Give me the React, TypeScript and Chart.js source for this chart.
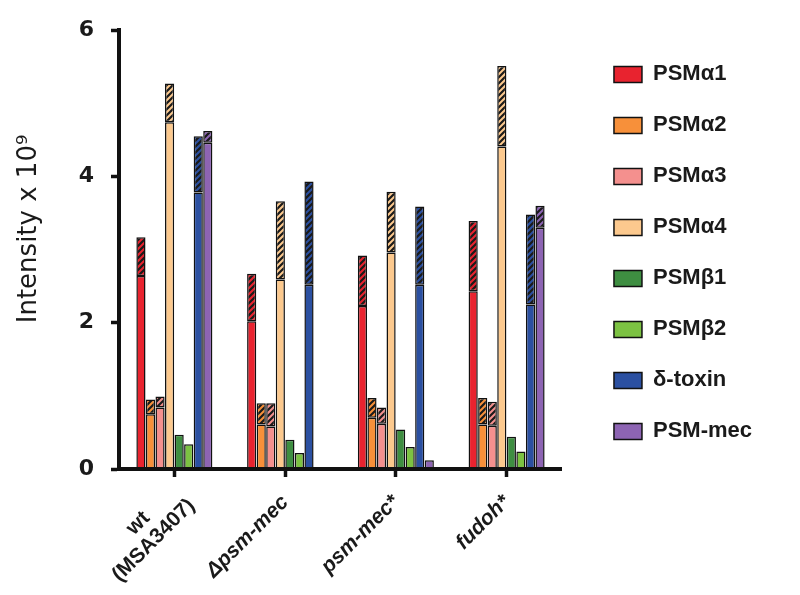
import React, { useEffect, useRef } from 'react';
import { Chart, registerables } from 'chart.js';

Chart.register(...registerables);

// Strains (x categories)
const categories: (string | string[])[] = [['wt       ', '(MSA3407)'], 'Δpsm-mec', 'psm-mec*', 'fudoh*'];

// Peptide series
const seriesNames = ['PSMα1', 'PSMα2', 'PSMα3', 'PSMα4', 'PSMβ1', 'PSMβ2', 'δ-toxin', 'PSM-mec'];
const seriesColors = ['#e8232f', '#f7903a', '#f4908e', '#fcc98e', '#3e8e41', '#7cc242', '#2b50a1', '#8d64b3'];

// Solid (lower) part of each bar, x 10^9
const psmA1Solid = [2.64, 2.02, 2.23, 2.43];
const psmA2Solid = [0.75, 0.61, 0.70, 0.61];
const psmA3Solid = [0.84, 0.58, 0.62, 0.59];
const psmA4Solid = [4.74, 2.59, 2.96, 4.41];
const psmB1Solid = [0.47, 0.40, 0.54, 0.44];
const psmB2Solid = [0.34, 0.22, 0.30, 0.24];
const deltaSolid = [3.78, 2.52, 2.52, 2.25];
const psmMecSolid = [4.46, 0, 0.12, 3.30];

// Total height (top of hatched part), x 10^9
const psmA1Total = [3.17, 2.67, 2.92, 3.39];
const psmA2Total = [0.95, 0.90, 0.97, 0.97];
const psmA3Total = [0.99, 0.90, 0.84, 0.92];
const psmA4Total = [5.27, 3.66, 3.79, 5.51];
const psmB1Total = [0.47, 0.40, 0.54, 0.44];
const psmB2Total = [0.34, 0.22, 0.30, 0.24];
const deltaTotal = [4.55, 3.93, 3.59, 3.48];
const psmMecTotal = [4.62, 0, 0.12, 3.60];

const yTicks = [0, 2, 4, 6];

const solids = [psmA1Solid, psmA2Solid, psmA3Solid, psmA4Solid, psmB1Solid, psmB2Solid, deltaSolid, psmMecSolid];
const totals = [psmA1Total, psmA2Total, psmA3Total, psmA4Total, psmB1Total, psmB2Total, deltaTotal, psmMecTotal];

function makeHatch(color: string): CanvasPattern | string {
  const s = 6;
  const c = document.createElement('canvas');
  c.width = s;
  c.height = s;
  const g = c.getContext('2d');
  if (!g) return color;
  g.fillStyle = color;
  g.fillRect(0, 0, s, s);
  g.strokeStyle = '#1a1a1a';
  g.lineWidth = 2.2;
  g.beginPath();
  g.moveTo(0, s);
  g.lineTo(s, 0);
  g.moveTo(-s / 2, s / 2);
  g.lineTo(s / 2, -s / 2);
  g.moveTo(s / 2, s + s / 2);
  g.lineTo(s + s / 2, s / 2);
  g.stroke();
  const p = g.createPattern(c, 'repeat');
  return p || color;
}

// Raise the two-line first category label so it sits like the reference
const liftMultiLineLabel = {
  id: 'liftMultiLineLabel',
  beforeDraw(chart: any) {
    const sx: any = chart.scales.x;
    if (!sx || typeof sx.getLabelItems !== 'function') return;
    const items = sx.getLabelItems();
    if (!items) return;
    items.forEach((it: any) => {
      if (Array.isArray(it.label) && it.label.length > 1 && !it._lifted && it.options && it.options.translation) {
        it.options.translation = [it.options.translation[0] + 1, it.options.translation[1] - 13];
        it._lifted = true;
      }
    });
  },
};

export default function App() {
  const ref = useRef<HTMLCanvasElement | null>(null);

  useEffect(() => {
    if (!ref.current) return;
    const datasets: any[] = [];
    seriesNames.forEach((name, i) => {
      datasets.push({
        label: name,
        data: solids[i].map((v) => (v > 0 ? v : null)),
        backgroundColor: seriesColors[i],
        borderColor: '#111111',
        borderWidth: 1.5,
        borderSkipped: false,
        stack: 's' + i,
      });
      datasets.push({
        label: name + ' (hatched)',
        data: totals[i].map((t, j) => {
          const d = Math.round((t - solids[i][j]) * 100) / 100;
          return d > 0 ? d : null;
        }),
        backgroundColor: makeHatch(seriesColors[i]),
        borderColor: '#111111',
        borderWidth: 1.5,
        borderSkipped: false,
        stack: 's' + i,
      });
    });

    const chart = new Chart(ref.current, {
      type: 'bar',
      data: { labels: categories as any, datasets },
      plugins: [liftMultiLineLabel],
      options: {
        animation: false,
        responsive: false,
        devicePixelRatio: 1,
        categoryPercentage: 0.69,
        barPercentage: 0.96,
        layout: { padding: { top: 26, left: 0, right: 38, bottom: 0 } },
        plugins: {
          tooltip: { enabled: false },
          legend: {
            position: 'right',
            align: 'start',
            title: { display: true, text: '', font: { size: 7 }, padding: 0 },
            labels: {
              filter: (item: any) => item.datasetIndex % 2 === 0,
              boxWidth: 28,
              boxHeight: 16,
              padding: 29,
              color: '#1a1a1a',
              font: { family: 'Liberation Sans', size: 22, weight: 'bold' },
            },
          },
        },
        scales: {
          x: {
            stacked: true,
            offset: true,
            grid: { offset: false, drawOnChartArea: false, tickLength: 8, tickWidth: 3.5, color: '#111111' },
            border: { color: '#111111', width: 4 },
            ticks: {
              minRotation: 45,
              maxRotation: 45,
              padding: 14,
              color: '#1a1a1a',
              font: (ctx: any) => ({
                family: 'Liberation Sans',
                size: 21,
                weight: 'bold',
                style: ctx.index === 0 ? 'normal' : 'italic',
                lineHeight: 1.1,
              }),
            },
            afterFit: (s: any) => {
              s.height = 126;
            },
          },
          y: {
            stacked: true,
            min: 0,
            max: 6,
            position: 'left',
            grid: { drawOnChartArea: false, tickLength: 8, tickWidth: 3.5, color: '#111111' },
            border: { color: '#111111', width: 4 },
            afterBuildTicks: (s: any) => {
              s.ticks = yTicks.map((v) => ({ value: v }));
            },
            ticks: {
              padding: 17,
              color: '#1a1a1a',
              font: { family: 'DejaVu Sans', size: 22, weight: 'bold' },
            },
            title: {
              display: true,
              text: '     Intensity x 10⁹',
              color: '#1a1a1a',
              font: { family: 'DejaVu Sans', size: 26, weight: 'normal' },
              padding: { top: 14, bottom: 0 },
            },
            afterFit: (s: any) => {
              s.width = 119;
            },
          },
          yPad: {
            type: 'linear',
            position: 'right',
            display: false,
            afterFit: (s: any) => {
              s.width = 23;
            },
          },
        },
      } as any,
    });
    return () => chart.destroy();
  }, []);

  return (
    <div style={{ position: 'absolute', left: 0, top: 0, width: 800, height: 595, background: '#ffffff' }}>
      <canvas ref={ref} width={800} height={595} />
    </div>
  );
}
